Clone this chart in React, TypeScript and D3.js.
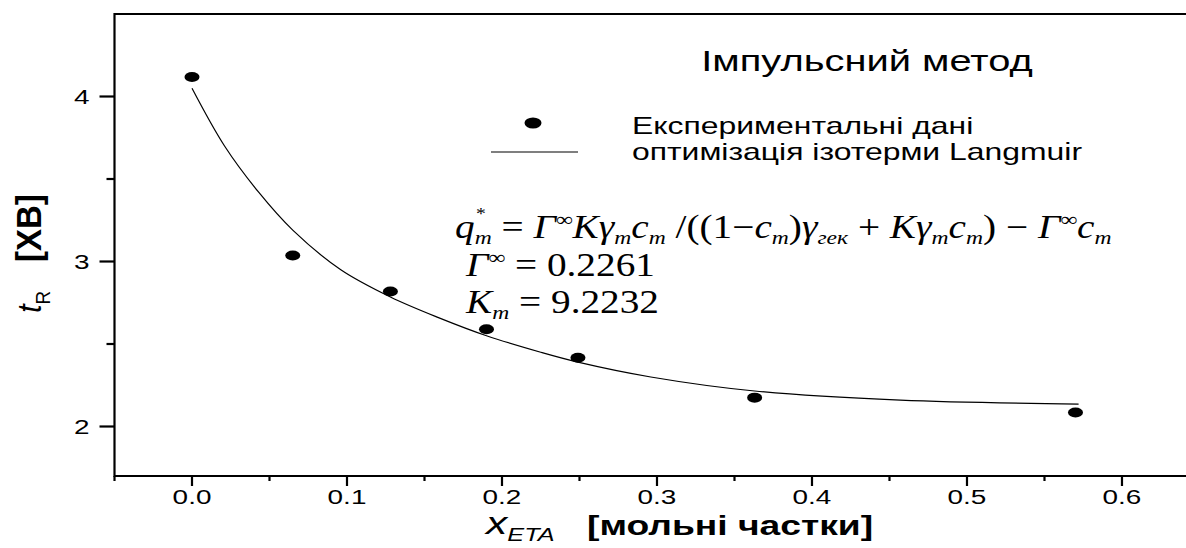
import * as d3 from 'd3';

const W = 1186;
const H = 548;

// experimental points (x = mole fraction ETA, y = t_R, min)
const expX = [0.0, 0.065, 0.128, 0.19, 0.249, 0.363, 0.57];
const expY = [4.118, 3.036, 2.818, 2.589, 2.417, 2.175, 2.085];

// fitted Langmuir isotherm curve
const fitX = [0, 0.021, 0.043, 0.065, 0.096, 0.128, 0.159, 0.19, 0.225, 0.249, 0.296, 0.363, 0.457, 0.572];
const fitY = [4.05, 3.7, 3.42, 3.19, 2.95, 2.785, 2.66, 2.55, 2.45, 2.39, 2.3, 2.215, 2.16, 2.136];

const xMajor = [0, 0.1, 0.2, 0.3, 0.4, 0.5, 0.6];
const xMinor = [-0.05, 0.05, 0.15, 0.25, 0.35, 0.45, 0.55, 0.65];
const yMajor = [2, 3, 4];
const yMinor = [2.5, 3.5];

const title = 'Імпульсний метод';
const legendLabels = ['Експериментальні дані', 'оптимізація ізотерми Langmuir'];

const sans = '"Liberation Sans", Arial, sans-serif';
const serif = '"Liberation Serif", "Times New Roman", serif';

// the original picture is stretched sideways, so texts are too
const SX = 1.33;
const FSX = 1.19;
const FS = 33;

type Seg = { t: string; it?: boolean; sub?: boolean; sup?: boolean };

function Formula({ x, y, segs }: { x: number; y: number; segs: Seg[] }) {
  let shift = 0;
  return (
    <g transform={`translate(${x},${y}) scale(${FSX},1)`}>
      <text fontFamily={serif} fontSize={FS} fill="#000">
        {segs.map((s, i) => {
          const target = s.sub ? 6 : s.sup ? -12 : 0;
          const dy = target - shift;
          shift = target;
          return (
            <tspan
              key={i}
              dy={dy}
              fontStyle={s.it ? 'italic' : 'normal'}
              fontSize={s.sub || s.sup ? FS * 0.6 : FS}
            >
              {s.t}
            </tspan>
          );
        })}
      </text>
    </g>
  );
}

function SText({ x, y, size, anchor = 'start', children }: any) {
  return (
    <g transform={`translate(${x},${y}) scale(${SX},1)`}>
      <text textAnchor={anchor} fontFamily={sans} fontSize={size} fill="#000">
        {children}
      </text>
    </g>
  );
}

export default function App() {
  const x = d3.scaleLinear().domain([-0.05, 0.6413]).range([114.5, W]);
  const y = d3.scaleLinear().domain([1.7, 4.5]).range([476, 14]);
  const fmt = d3.format('.1f');

  const line = d3
    .line<number>()
    .x((_, i) => x(fitX[i]))
    .y((d) => y(d))
    .curve(d3.curveCatmullRom.alpha(0.5));

  const x0 = x.range()[0];
  const yb = y.range()[0];
  const yt = y.range()[1];

  const line1: Seg[] = [
    { t: 'q', it: true },
    { t: 'm', it: true, sub: true },
    { t: ' = ' },
    { t: 'Γ', it: true },
    { t: '∞', sup: true },
    { t: 'Kγ', it: true },
    { t: 'm', it: true, sub: true },
    { t: 'c', it: true },
    { t: 'm', it: true, sub: true },
    { t: ' /((1−' },
    { t: 'c', it: true },
    { t: 'm', it: true, sub: true },
    { t: ')' },
    { t: 'γ', it: true },
    { t: 'гек', it: true, sub: true },
    { t: ' + ' },
    { t: 'Kγ', it: true },
    { t: 'm', it: true, sub: true },
    { t: 'c', it: true },
    { t: 'm', it: true, sub: true },
    { t: ') − ' },
    { t: 'Γ', it: true },
    { t: '∞', sup: true },
    { t: 'c', it: true },
    { t: 'm', it: true, sub: true },
  ];
  const line2: Seg[] = [
    { t: 'Γ', it: true },
    { t: '∞', sup: true },
    { t: ' = 0.2261' },
  ];
  const line3: Seg[] = [
    { t: 'K', it: true },
    { t: 'm', it: true, sub: true },
    { t: ' = 9.2232' },
  ];

  return (
    <svg
      width={W}
      height={H}
      style={{ position: 'absolute', left: 0, top: 0, background: '#fff' }}
    >
      <rect width={W} height={H} fill="#fff" />

      {/* axes frame */}
      <line x1={x0} x2={W} y1={yb} y2={yb} stroke="#000" strokeWidth={2.2} />
      <line x1={x0} x2={W} y1={yt} y2={yt} stroke="#000" strokeWidth={2.2} />
      <line x1={x0} x2={x0} y1={yt - 1} y2={yb + 1} stroke="#000" strokeWidth={2.2} />

      {/* x ticks */}
      {xMajor.map((v) => (
        <g key={'xm' + v}>
          <line x1={x(v)} x2={x(v)} y1={yb} y2={yb + 10} stroke="#000" strokeWidth={2.2} />
          <SText x={x(v)} y={yb + 28} size={21} anchor="middle">
            {fmt(v)}
          </SText>
        </g>
      ))}
      {xMinor.map((v) => (
        <line key={'xn' + v} x1={x(v)} x2={x(v)} y1={yb} y2={yb + 5} stroke="#000" strokeWidth={2.2} />
      ))}

      {/* y ticks */}
      {yMajor.map((v) => (
        <g key={'ym' + v}>
          <line x1={x0} x2={x0 - 15} y1={y(v)} y2={y(v)} stroke="#000" strokeWidth={2.2} />
          <SText x={x0 - 25} y={y(v) + 7.5} size={21} anchor="end">
            {v}
          </SText>
        </g>
      ))}
      {yMinor.map((v) => (
        <line key={'yn' + v} x1={x0} x2={x0 - 8} y1={y(v)} y2={y(v)} stroke="#000" strokeWidth={2.2} />
      ))}

      {/* fitted curve */}
      <path d={line(fitY) || ''} fill="none" stroke="#000" strokeWidth={1.2} />

      {/* experimental points */}
      {expX.map((v, i) => (
        <ellipse key={'p' + i} cx={x(v)} cy={y(expY[i])} rx={7.5} ry={5} fill="#000" />
      ))}

      {/* title */}
      <SText x={867} y={71} size={30} anchor="middle">
        {title}
      </SText>

      {/* legend */}
      <ellipse cx={533} cy={123} rx={8.5} ry={5.5} fill="#000" />
      <SText x={632} y={134} size={24}>
        {legendLabels[0]}
      </SText>
      <line x1={491} x2={578} y1={152} y2={152} stroke="#000" strokeWidth={1.2} />
      <SText x={632} y={160} size={24}>
        {legendLabels[1]}
      </SText>

      {/* formula */}
      <Formula x={455} y={238} segs={line1} />
      <g transform={`translate(476,219) scale(${FSX},1)`}>
        <text fontFamily={serif} fontSize={FS * 0.5}>*</text>
      </g>
      <Formula x={466} y={276} segs={line2} />
      <Formula x={466} y={313} segs={line3} />

      {/* x label */}
      <SText x={486} y={534} size={32}>
        <tspan fontStyle="italic">x</tspan>
        <tspan dy={7} fontSize={19} fontStyle="italic">ETA</tspan>
      </SText>
      <SText x={587} y={535} size={28}>
        <tspan fontWeight="bold">[мольні частки]</tspan>
      </SText>

      {/* y label */}
      <g transform="translate(41,313) rotate(-90) scale(1,1.1)">
        <text fontFamily={sans} fontSize={31} fill="#000">
          <tspan fontStyle="italic">t</tspan>
          <tspan dy={8} fontSize={19}>R</tspan>
        </text>
      </g>
      <g transform="translate(41,262) rotate(-90) scale(1,1.05)">
        <text fontFamily={sans} fontSize={33} fontWeight="bold" fill="#000">
          [ХВ]
        </text>
      </g>
    </svg>
  );
}
